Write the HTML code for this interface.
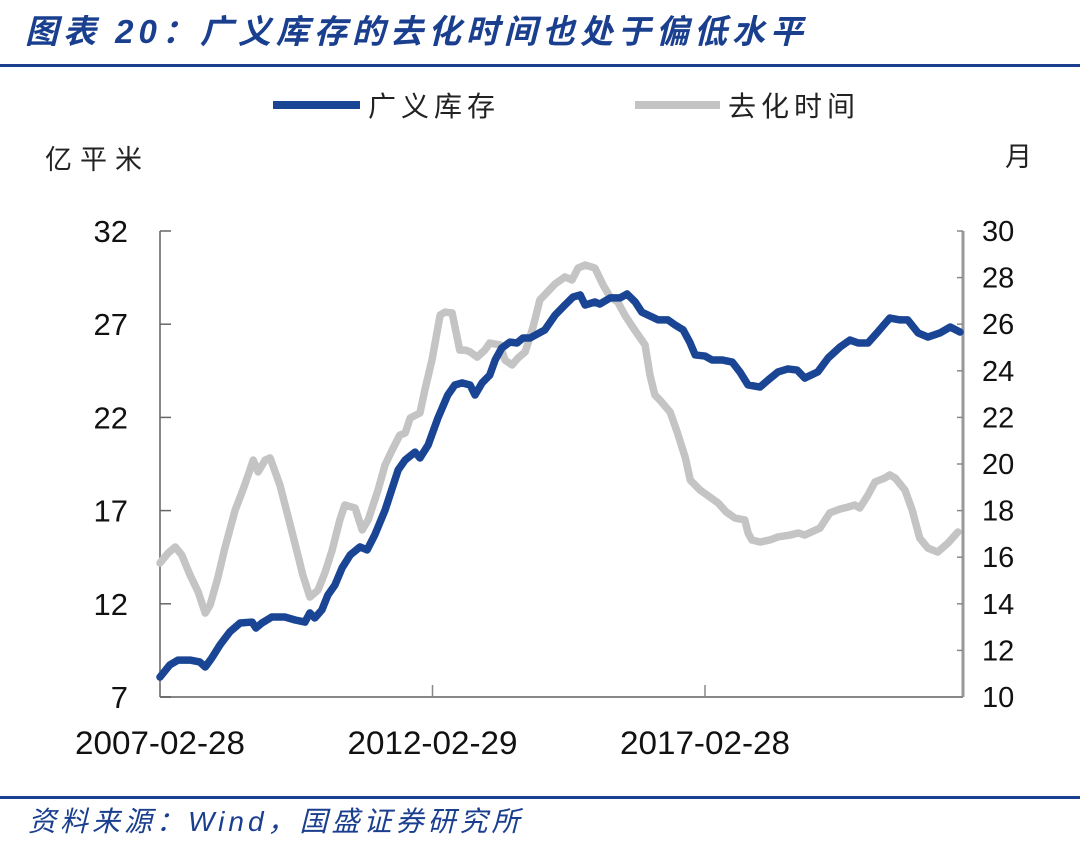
<!DOCTYPE html>
<html><head><meta charset="utf-8"><style>
body{margin:0;background:#fff;}
svg text{font-family:"Liberation Sans","Noto Sans CJK SC",sans-serif;}
</style></head><body>
<svg width="1080" height="842" xmlns="http://www.w3.org/2000/svg">
<text x="25" y="43" font-size="33" font-style="italic" font-weight="bold" fill="#1a3f8f" letter-spacing="5">图表 20：广义库存的去化时间也处于偏低水平</text>
<rect x="0" y="64" width="1080" height="3" fill="#1a3f8f"/>
<line x1="273" y1="105" x2="360" y2="105" stroke="#1a4594" stroke-width="8"/>
<text x="368" y="116" font-size="28" fill="#222" letter-spacing="5">广义库存</text>
<line x1="635" y1="105" x2="720" y2="105" stroke="#c4c4c4" stroke-width="8"/>
<text x="728" y="116" font-size="28" fill="#222" letter-spacing="5">去化时间</text>
<text x="45" y="169" font-size="27" fill="#222" letter-spacing="8">亿平米</text>
<text x="1005" y="166" font-size="27" fill="#222">月</text>
<g id="axes"></g>
<g id="marks"></g>
<rect x="0" y="796" width="1080" height="3" fill="#1a3f8f"/>
<text x="28" y="831" font-size="28" font-style="italic" fill="#1a3f8f" letter-spacing="4">资料来源：Wind，国盛证券研究所</text>
</svg>
<script>
const leftTicks=[7,12,17,22,27,32];
const rightTicks=[10,12,14,16,18,20,22,24,26,28,30];
const xTickLabels=["2007-02-28","2012-02-29","2017-02-28"];
const xTickYears=[2007.16,2012.16,2017.16];
const invYears=[2007.16,2007.34,2007.49,2007.71,2007.89,2007.99,2008.11,2008.26,2008.44,2008.63,2008.85,2008.92,2009.03,2009.21,2009.45,2009.64,2009.82,2009.91,2010.00,2010.13,2010.24,2010.37,2010.50,2010.65,2010.83,2010.96,2011.10,2011.29,2011.53,2011.66,2011.84,2011.93,2012.08,2012.26,2012.44,2012.57,2012.70,2012.85,2012.94,2013.07,2013.21,2013.31,2013.43,2013.58,2013.71,2013.82,2013.95,2014.22,2014.41,2014.59,2014.74,2014.87,2014.96,2015.14,2015.23,2015.42,2015.60,2015.73,2015.88,2016.00,2016.15,2016.30,2016.48,2016.61,2016.76,2016.88,2016.98,2017.16,2017.29,2017.47,2017.66,2017.80,2017.95,2018.17,2018.32,2018.50,2018.68,2018.85,2018.99,2019.23,2019.42,2019.64,2019.82,2019.97,2020.15,2020.33,2020.55,2020.74,2020.88,2021.07,2021.25,2021.47,2021.66,2021.84];
const invValues=[8.07,8.72,8.98,8.98,8.88,8.61,9.09,9.79,10.49,10.97,11.02,10.70,10.97,11.29,11.29,11.13,11.02,11.51,11.24,11.67,12.47,13.01,13.92,14.62,15.05,14.89,15.69,17.03,19.18,19.72,20.14,19.82,20.52,21.97,23.20,23.74,23.85,23.74,23.20,23.85,24.27,25.08,25.72,26.04,25.99,26.26,26.26,26.69,27.49,28.03,28.46,28.57,28.03,28.19,28.08,28.41,28.41,28.62,28.19,27.65,27.44,27.23,27.23,26.96,26.69,26.04,25.35,25.29,25.08,25.08,24.97,24.44,23.74,23.63,24.01,24.44,24.60,24.54,24.11,24.44,25.19,25.78,26.15,25.99,25.99,26.58,27.33,27.23,27.23,26.53,26.31,26.53,26.85,26.58];
const monYears=[2007.16,2007.31,2007.44,2007.56,2007.71,2007.86,2007.99,2008.08,2008.22,2008.35,2008.54,2008.68,2008.81,2008.87,2008.96,2009.09,2009.18,2009.36,2009.55,2009.69,2009.78,2009.91,2010.06,2010.19,2010.32,2010.46,2010.55,2010.74,2010.87,2010.98,2011.16,2011.29,2011.42,2011.56,2011.66,2011.75,2011.93,2012.02,2012.15,2012.30,2012.39,2012.52,2012.66,2012.76,2012.85,2012.98,2013.12,2013.21,2013.40,2013.49,2013.62,2013.73,2013.86,2014.00,2014.13,2014.41,2014.59,2014.72,2014.83,2014.96,2015.14,2015.29,2015.42,2015.56,2015.69,2015.82,2016.06,2016.15,2016.24,2016.33,2016.52,2016.65,2016.80,2016.89,2017.07,2017.25,2017.40,2017.55,2017.71,2017.89,2017.95,2018.02,2018.17,2018.35,2018.50,2018.72,2018.87,2018.99,2019.27,2019.45,2019.64,2019.78,2019.91,2020.00,2020.15,2020.28,2020.46,2020.55,2020.65,2020.83,2020.96,2021.10,2021.25,2021.43,2021.62,2021.80];
const monValues=[15.75,16.18,16.44,16.09,15.24,14.51,13.60,13.95,15.11,16.39,18.03,18.88,19.74,20.17,19.66,20.17,20.26,19.10,17.38,16.09,15.24,14.29,14.59,15.36,16.31,17.60,18.24,18.11,17.17,17.60,18.88,19.96,20.60,21.24,21.33,21.97,22.19,23.18,24.46,26.39,26.52,26.48,24.89,24.89,24.81,24.59,24.89,25.19,25.11,24.46,24.25,24.55,24.81,25.84,27.04,27.73,28.03,27.90,28.41,28.54,28.41,27.68,27.17,26.95,26.39,25.92,25.11,23.82,22.96,22.75,22.23,21.37,20.26,19.31,18.88,18.58,18.33,17.94,17.68,17.60,17.04,16.74,16.65,16.74,16.87,16.95,17.04,16.95,17.25,17.90,18.07,18.15,18.24,18.11,18.67,19.23,19.40,19.53,19.40,18.88,18.03,16.82,16.39,16.22,16.61,17.08];

const X0=160,X1=963,Y0=697,Y1=231;
const xS=y=>X0+(y-2007.16)*54.5;
const yL=v=>Y0-(v-7)/25*(Y0-Y1);
const yR=v=>Y0-(v-10)/20*(Y0-Y1);
const NS="http://www.w3.org/2000/svg";
const axes=document.getElementById('axes'),marks=document.getElementById('marks');
function mk(tag,attrs,parent){const e=document.createElementNS(NS,tag);for(const k in attrs)e.setAttribute(k,attrs[k]);parent.appendChild(e);return e;}
let e;
e=mk('line',{x1:X0,y1:Y1,x2:X0,y2:Y0,stroke:'#888','stroke-width':2},axes);


e=mk('line',{x1:X0,y1:Y0,x2:X1,y2:Y0,stroke:'#888','stroke-width':2},axes);


e=mk('line',{x1:X1,y1:Y1,x2:X1,y2:Y0,stroke:'#999','stroke-width':3},axes);


leftTicks.forEach(v=>{
 e=mk('line',{x1:X0,y1:yL(v),x2:X0+11,y2:yL(v),stroke:'#666','stroke-width':1.5},axes);
 
 
 e=mk('text',{x:128,y:yL(v)+11,'text-anchor':'end','font-size':31,fill:'#111'},axes);
 e.textContent=v;
 
 
});
rightTicks.forEach(v=>{
 e=mk('line',{x1:X1-6,y1:yR(v),x2:X1,y2:yR(v),stroke:'#888','stroke-width':1.5},axes);
 
 
 e=mk('text',{x:982,y:yR(v)+10,'font-size':29,fill:'#111'},axes);
 e.textContent=v;
 
 
});
xTickYears.forEach((yr,i)=>{
 if(i>0){e=mk('line',{x1:xS(yr),y1:Y0,x2:xS(yr),y2:Y0-12,stroke:'#888','stroke-width':1.5},axes);
 
 }
 e=mk('text',{x:xS(yr),y:754,'text-anchor':'middle','font-size':32,fill:'#111',textLength:170,lengthAdjust:'spacingAndGlyphs'},axes);
 e.textContent=xTickLabels[i];
 
 
});
e=mk('polyline',{points:monYears.map((y,i)=>xS(y)+','+yR(monValues[i])).join(' '),fill:'none',stroke:'#c4c4c4','stroke-width':7.5,'stroke-linejoin':'round','stroke-linecap':'round'},marks);


e=mk('polyline',{points:invYears.map((y,i)=>xS(y)+','+yL(invValues[i])).join(' '),fill:'none',stroke:'#1a4594','stroke-width':7.5,'stroke-linejoin':'round','stroke-linecap':'round'},marks);


</script>
</body></html>
